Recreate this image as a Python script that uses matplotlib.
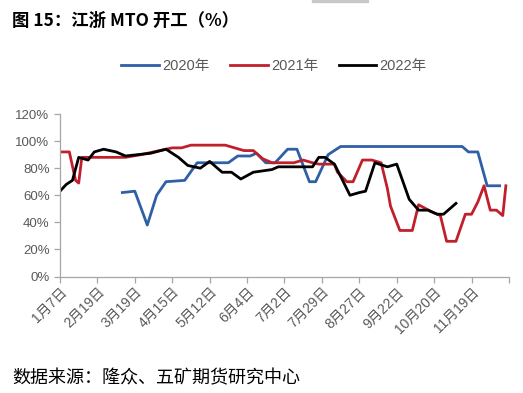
import matplotlib
matplotlib.use("Agg")
import matplotlib.pyplot as plt
from matplotlib.patches import Rectangle

plt.rcParams['font.family'] = ['Liberation Sans', 'Noto Sans CJK SC', 'DejaVu Sans']

# --- data: union category axis (weekly dates of the 3 years merged) ---
n_cat = 145
tick_labels = ["1月7日", "2月19日", "3月19日", "4月15日", "5月12日", "6月4日",
               "7月2日", "7月29日", "8月27日", "9月22日", "10月20日", "11月19日", ""]

x2020 = [20, 24, 28, 31, 34, 40, 44, 54, 57, 61, 63, 66, 69, 73, 76, 80, 82, 86, 90,
         129, 131, 134, 137, 141]
y2020 = [62, 63, 38, 60, 70, 71, 84, 84, 89, 89, 91, 84, 84, 94, 94, 70, 70, 90, 96,
         96, 92, 92, 67, 67]

x2021 = [0, 3, 5, 6, 7, 21, 26, 30, 36, 39, 42, 53, 59, 62, 65, 68, 75, 78, 81, 83,
         88, 89, 92, 94, 97, 100, 103, 105, 106, 109, 113, 115, 119, 122, 124, 127,
         130, 132, 134, 136, 138, 140, 142, 143]
y2021 = [92, 92, 71, 69, 88, 88, 90, 92, 95, 95, 97, 97, 93, 93, 87, 84, 84, 86, 84, 83,
         83, 77, 70, 70, 86, 86, 84, 65, 52, 34, 34, 53, 48, 45, 26, 26,
         46, 46, 55, 67, 49, 49, 45, 67]

x2022 = [0, 2, 4, 6, 9, 11, 14, 18, 21, 25, 29, 34, 36, 38, 41, 45, 48, 52, 55, 58,
         62, 65, 68, 70, 81, 83, 85, 88, 90, 93, 96, 98, 101, 105, 108, 112, 115, 118,
         121, 123, 127]
y2022 = [63, 68, 71, 88, 86, 92, 94, 92, 89, 90, 91, 94, 91, 88, 82, 80, 85, 77, 77, 72,
         77, 78, 79, 81, 81, 88, 88, 83, 74, 60, 62, 63, 84, 81, 83, 57, 49, 49,
         46, 46, 54]

series = [("2020年", x2020, y2020, "#2f5fa7"),
          ("2021年", x2021, y2021, "#c0202b"),
          ("2022年", x2022, y2022, "#000000")]

fig = plt.figure(figsize=(5.23, 3.93), dpi=100)
ax = fig.add_axes([0.1147, 0.2964, 0.8585, 0.4135])

for name, xs, ys, col in series:
    ax.plot(xs, ys, color=col, lw=2.0, label=name, solid_joinstyle='round')

ax.set_xlim(0, n_cat - 1)
ax.set_ylim(0, 120)
ax.set_yticks(range(0, 121, 20))
ax.set_yticklabels([f"{v}%" for v in range(0, 121, 20)])
ax.set_xticks(range(0, n_cat, 12))
ax.set_xticklabels(tick_labels, rotation=45, ha='right', va='top',
                   rotation_mode='anchor')

for s in ['top', 'right']:
    ax.spines[s].set_visible(False)
for s in ['left', 'bottom']:
    ax.spines[s].set_color('#a6a6a6')
    ax.spines[s].set_linewidth(0.9)
ax.tick_params(axis='both', colors='#a6a6a6', length=4, width=0.9,
               labelcolor='#595959', labelsize=9.5)
ax.tick_params(axis='x', pad=2, labelsize=10)

fig.legend(loc='center', bbox_to_anchor=(274 / 523, 1 - 66 / 393), ncol=3,
           frameon=False, fontsize=10.5, handlelength=2.6, handletextpad=0.2,
           columnspacing=1.4, labelcolor='#595959')

fig.text(12 / 523, 1 - 21 / 393, "图 15：江浙 MTO 开工（%）", fontsize=12.5,
         fontweight='bold', ha='left', va='center',
         family=['Noto Sans CJK SC', 'DejaVu Sans'])
fig.text(12 / 523, 1 - 378 / 393, "数据来源：隆众、五矿期货研究中心", fontsize=13,
         ha='left', va='center', family=['Noto Sans CJK SC', 'DejaVu Sans'])

# leftover grey strip at the top edge of the page
fig.patches.append(Rectangle((312 / 523, 1 - 2 / 393), 56 / 523, 2 / 393,
                             transform=fig.transFigure, color='#c8c8c8'))

fig.savefig("out.png", dpi=100)
